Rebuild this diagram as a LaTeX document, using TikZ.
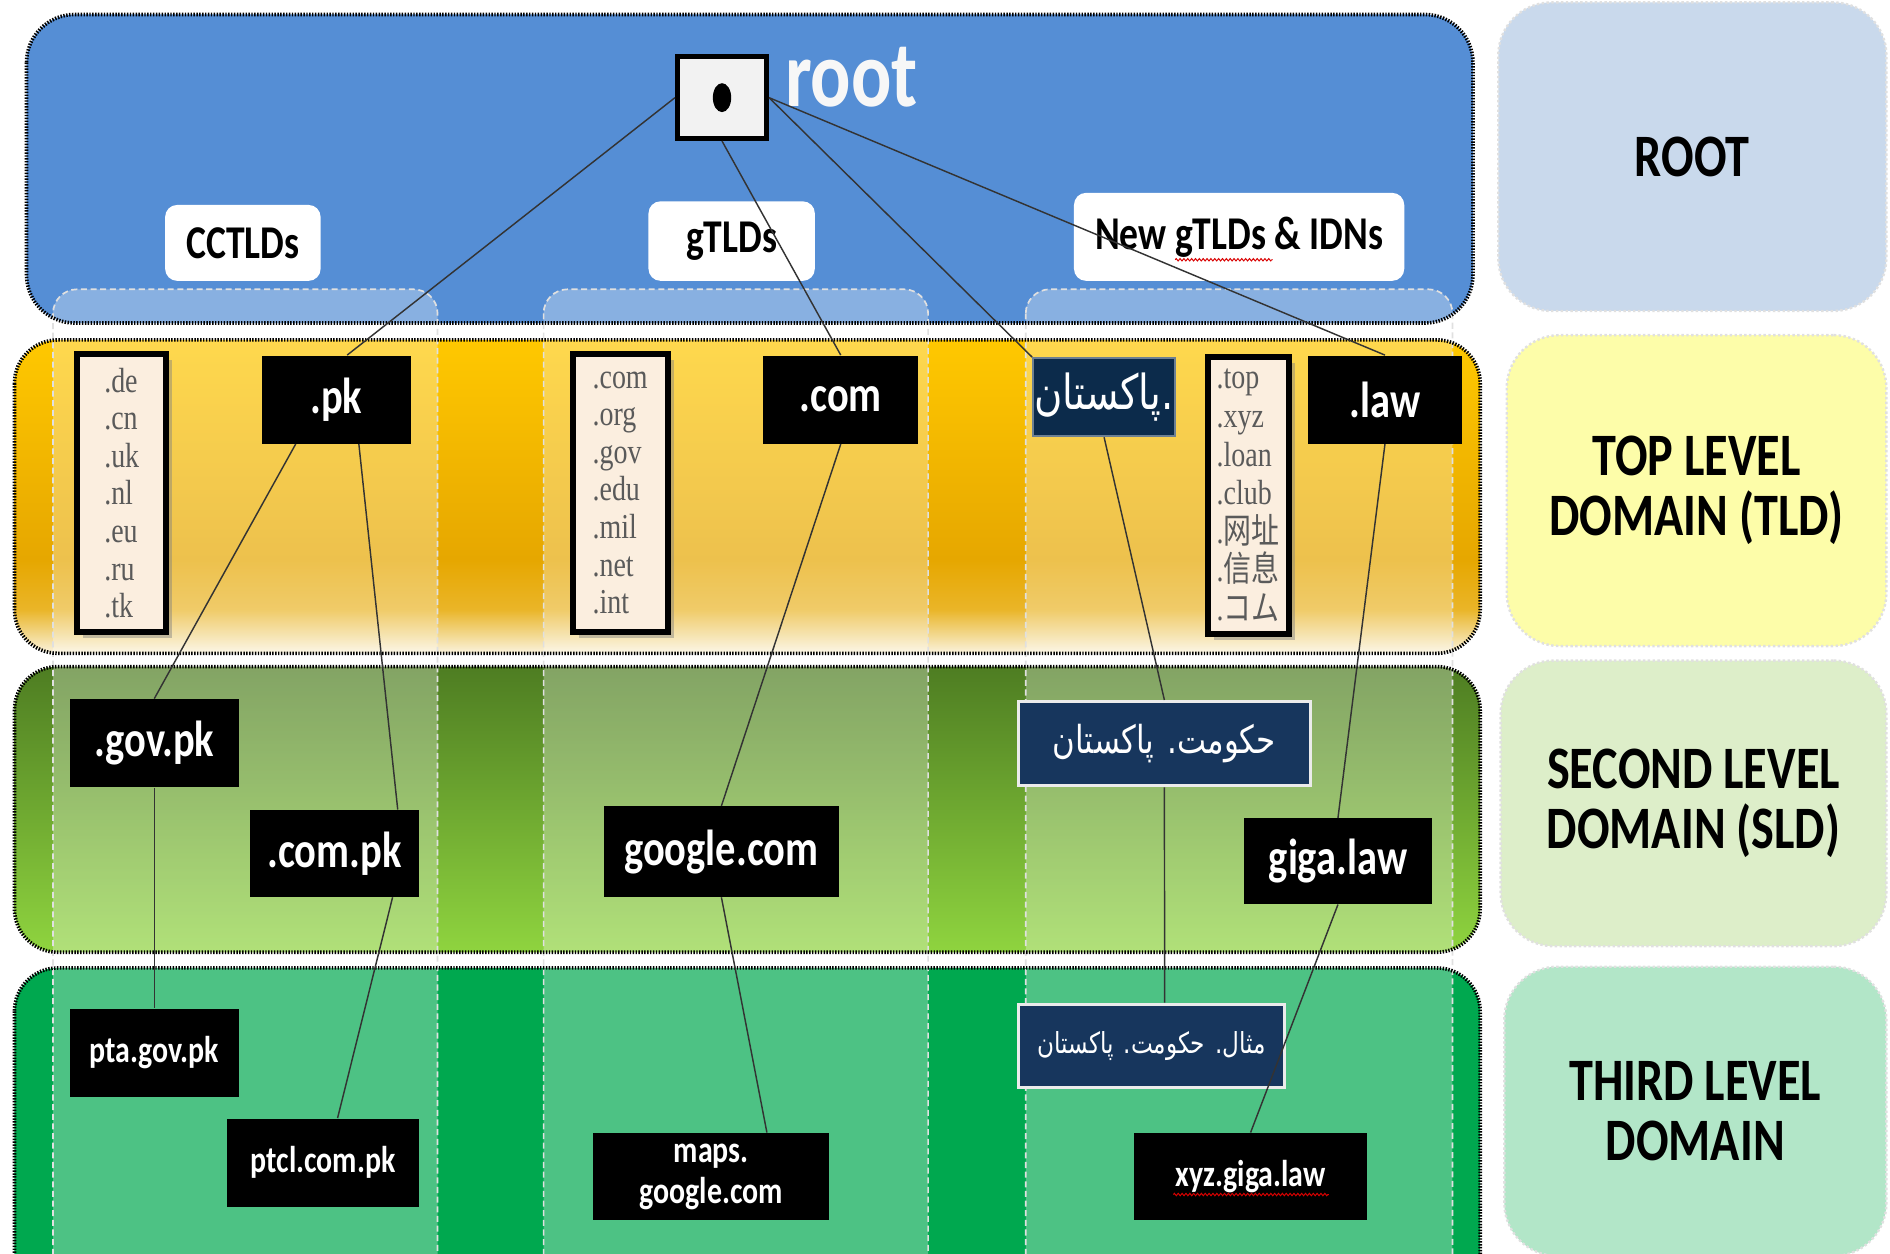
\documentclass[tikz,border=0pt]{standalone}
\usepackage{fontspec}
\setmainfont[FakeStretch=0.8]{Carlito}
\newfontfamily\serifl[FakeStretch=0.8]{Liberation Serif}
\newfontfamily\cjk[FakeStretch=0.8]{Noto Sans CJK SC}
\newfontfamily\arabicfont[Script=Arabic,FakeStretch=0.8]{DejaVu Sans}
\TeXXeTstate=1
\usetikzlibrary{shadows,calc,decorations.pathmorphing}
\definecolor{bandblue}{HTML}{558ED5}
\definecolor{navyA}{HTML}{0C2B4B}
\definecolor{navyB}{HTML}{17365D}
\definecolor{listfill}{HTML}{FBEEDF}
\definecolor{listtext}{HTML}{5A5A5A}
\definecolor{thirdgreen}{HTML}{00A84F}
\definecolor{rootlbl}{HTML}{C9D9EC}
\definecolor{tldlbl}{HTML}{FDFDA9}
\definecolor{sldlbl}{HTML}{DDEEC9}
\definecolor{thirdlbl}{HTML}{B2E6C8}
\definecolor{yb0}{HTML}{FBF3DE}
\definecolor{yb1}{HTML}{F2D88E}
\definecolor{yb2}{HTML}{EAB528}
\definecolor{yb3}{HTML}{E6A700}
\definecolor{yb4}{HTML}{FFC800}
\definecolor{gb0}{HTML}{8FD43F}
\definecolor{gb1}{HTML}{4E7D22}
\pgfdeclareverticalshading{yellowband}{100bp}{color(0bp)=(yb0); color(25bp)=(yb0); color(28bp)=(yb1); color(32bp)=(yb2); color(40bp)=(yb3); color(75bp)=(yb4); color(100bp)=(yb4)}
\pgfdeclareverticalshading{greenband}{100bp}{color(0bp)=(gb0); color(25bp)=(gb0); color(75bp)=(gb1); color(100bp)=(gb1)}
\begin{document}
\begin{tikzpicture}[x=0.5pt,y=-0.5pt,
  bandborder/.style={draw=black, line width=1.5pt, dash pattern=on 0.6pt off 0.6pt},
  colov/.style={fill=white, fill opacity=0.3, draw=white!88!black, line width=0.7pt, dash pattern=on 2.5pt off 1.5pt, rounded corners=10pt},
  blk/.style={fill=black, text=white, inner sep=0pt, font=\bfseries\fontsize{21}{21}\selectfont},
  blks/.style={blk, font=\bfseries\fontsize{15.5}{17}\selectfont, align=center},
  navy/.style={fill=navyB, draw=white!92!black, line width=1.3pt, text=white, inner sep=0pt},
  grp/.style={fill=white, rounded corners=5pt, inner sep=0pt, font=\bfseries\fontsize{19.5}{19.5}\selectfont},
  lst/.style={draw=black, line width=2.5pt, fill=listfill, inner sep=0pt, align=left, text=listtext,
    font=\serifl\fontsize{14.5}{15.6}\selectfont, drop shadow={opacity=0.45, shadow xshift=2.5pt, shadow yshift=-2.5pt}},
  side/.style={rounded corners=22pt, draw=black!12, line width=1pt, dash pattern=on 1pt off 1pt, align=center, inner sep=0pt, font=\bfseries\fontsize{25}{25}\selectfont},
  conn/.style={draw=black!80, line width=0.6pt},
  squig/.style={draw=red!85!black, line width=0.4pt, decorate, decoration={zigzag, segment length=1.6pt, amplitude=0.5pt}}]
\clip (0,0) rectangle (1568,1040);
\fill[white] (0,0) rectangle (1568,1040);
% bands
\fill[bandblue, rounded corners=20pt] (22,12) rectangle (1222,268);
\shade[shading=yellowband, rounded corners=18pt] (12,282) rectangle (1228,542);
\shade[shading=greenband, rounded corners=18pt] (12,553) rectangle (1228,790);
\fill[thirdgreen, rounded corners=18pt] (12,803) rectangle (1228,1090);
% column overlays
\path[colov] (44,240) rectangle (363,1090);
\path[colov] (451,240) rectangle (770,1090);
\path[colov] (851,240) rectangle (1205,1090);
% band borders
\path[bandborder, rounded corners=20pt] (22,12) rectangle (1222,268);
\path[bandborder, rounded corners=18pt] (12,282) rectangle (1228,542);
\path[bandborder, rounded corners=18pt] (12,553) rectangle (1228,790);
\path[bandborder, rounded corners=18pt] (12,803) rectangle (1228,1090);
% side labels
\node[side, fill=rootlbl, minimum width=161pt, minimum height=128pt] (sroot) at (1404,130) {ROOT};
\node[side, fill=tldlbl, minimum width=157.5pt, minimum height=129pt] (stld) at (1407.5,407) {TOP LEVEL\\DOMAIN (TLD)};
\node[side, fill=sldlbl, minimum width=160pt, minimum height=118.5pt] (ssld) at (1405,666.5) {SECOND LEVEL\\DOMAIN (SLD)};
\node[side, fill=thirdlbl, minimum width=158.5pt, minimum height=120pt] (sthird) at (1406.5,922) {THIRD LEVEL\\DOMAIN};
% root
\node[draw=black, line width=2pt, fill=black!5, minimum width=37pt, minimum height=34pt, inner sep=0pt] (rootbox) at (599,81) {};
\fill[black] (rootbox.center) ellipse [x radius=3.8pt, y radius=6pt];
\node[anchor=base west, text=black!3, inner sep=0pt, font=\bfseries\fontsize{39}{39}\selectfont] (roottxt) at (651,88) {root};
% group labels
\node[grp, minimum width=64.5pt, minimum height=31.5pt] (cclbl) at (201.5,201.5) {CCTLDs};
\node[grp, minimum width=69pt, minimum height=33pt] (glbl) at (607,200) {gTLDs};
\node[grp, minimum width=137pt, minimum height=36.5pt] (newlbl) at (1028,196.5) {New gTLDs \& IDNs};
% TLD level
\node[lst, minimum width=37pt, minimum height=115pt] (cclist) at (101,409) {.de\\.cn\\.uk\\.nl\\.eu\\.ru\\.tk};
\node[blk, minimum width=62pt, minimum height=36.5pt] (pk) at (279,331.5) {.pk};
\node[lst, minimum width=39.5pt, minimum height=115pt] (glist) at (514.5,409) {.com\\.org\\.gov\\.edu\\.mil\\.net\\.int};
\node[blk, minimum width=64.5pt, minimum height=36.5pt] (com) at (697.5,331.5) {.com};
\node[navy, fill=navyA, draw=navyA!60!white, line width=0.8pt, minimum width=59pt, minimum height=32.5pt, font=\arabicfont\fontsize{20}{20}\selectfont] (pak) at (916,329.5) {\beginR .پاکستان\endR};
\node[lst, minimum width=33.5pt, minimum height=115pt, font=\serifl\fontsize{14.5}{16}\selectfont] (nlist) at (1035.5,411) {.top\\.xyz\\.loan\\.club\\.{\cjk 网址}\\.{\cjk 信息}\\.{\cjk コム}};
\node[blk, minimum width=64pt, minimum height=36.5pt] (law) at (1149,331.5) {.law};
% SLD level
\node[blk, minimum width=70pt, minimum height=36.5pt] (govpk) at (128,616.5) {.gov.pk};
\node[blk, minimum width=70.5pt, minimum height=36pt] (compk) at (277.5,708) {.com.pk};
\node[blk, minimum width=97.5pt, minimum height=37.5pt] (google) at (598.5,706.5) {google.com};
\node[navy, minimum width=121pt, minimum height=35pt, font=\arabicfont\fontsize{16}{16}\selectfont] (hukumat) at (966,617) {\beginR حکومت. پاکستان\endR};
\node[blk, minimum width=78pt, minimum height=35.5pt] (giga) at (1110,714.5) {giga.law};
% third level
\node[blks, minimum width=70pt, minimum height=36.5pt] (pta) at (128,873.5) {pta.gov.pk};
\node[blks, minimum width=80pt, minimum height=36.5pt] (ptcl) at (268,964.5) {ptcl.com.pk};
\node[blks, minimum width=98pt, minimum height=36pt] (maps) at (590,976) {maps.\\google.com};
\node[navy, minimum width=110.5pt, minimum height=34.5pt, font=\arabicfont\fontsize{12}{12}\selectfont] (misal) at (955.5,867.5) {\beginR مثال. حکومت. پاکستان\endR};
\node[blks, minimum width=96.5pt, minimum height=36pt] (xyz) at (1037.5,976) {xyz.giga.law};
% spell-check squiggles
\draw[squig] ($(newlbl.center)+(-53,19)$) -- ($(newlbl.center)+(28,19)$);
\draw[squig] ($(xyz.center)+(-64,15)$) -- ($(xyz.center)+(65,15)$);
% connectors
\draw[conn] (rootbox.west) -- ($(pk.north)+(9,0)$);
\draw[conn] (rootbox.south) -- (com.north);
\draw[conn] (rootbox.east) -- (pak.north west);
\draw[conn] (rootbox.east) -- (law.north);
\draw[conn] ($(pk.south west)!0.23!(pk.south east)$) -- (govpk.north);
\draw[conn] ($(pk.south west)!0.65!(pk.south east)$) -- ($(compk.north west)!0.87!(compk.north east)$);
\draw[conn] (com.south) -- (google.north);
\draw[conn] (pak.south) -- (hukumat.north);
\draw[conn] (law.south) -- (giga.north);
\draw[conn] (govpk.south) -- (pta.north);
\draw[conn] ($(compk.south west)!0.84!(compk.south east)$) -- ($(ptcl.north west)!0.575!(ptcl.north east)$);
\draw[conn] (google.south) -- ($(maps.north west)!0.735!(maps.north east)$);
\draw[conn] (hukumat.south) -- ($(misal.north west)!0.548!(misal.north east)$);
\draw[conn] (giga.south) -- (xyz.north);
\end{tikzpicture}
\end{document}
